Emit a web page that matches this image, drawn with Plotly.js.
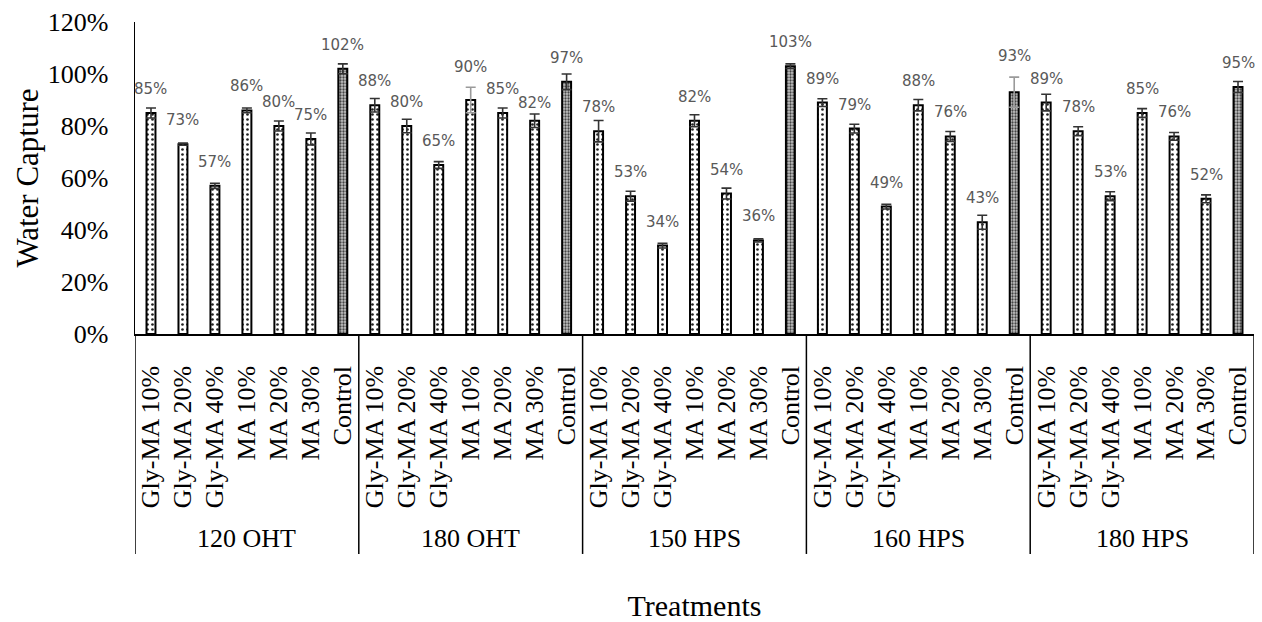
<!DOCTYPE html>
<html>
<head>
<meta charset="utf-8">
<script src="https://cdn.plot.ly/plotly-3.0.1.min.js"></script>
<style>html,body{margin:0;padding:0;background:#fff;}#chart{width:1262px;height:622px;}</style>
</head>
<body>
<div id="chart"></div>
<script>
// ---- data ----
const groups = ['120 OHT', '180 OHT', '150 HPS', '160 HPS', '180 HPS'];
const treatments = ['Gly-MA 10%', 'Gly-MA 20%', 'Gly-MA 40%', 'MA 10%', 'MA 20%', 'MA 30%', 'Control'];
const capture120OHT = [85, 73, 57, 86, 80, 75, 102];
const capture180OHT = [88, 80, 65, 90, 85, 82, 97];
const capture150HPS = [78, 53, 34, 82, 54, 36, 103];
const capture160HPS = [89, 79, 49, 88, 76, 43, 93];
const capture180HPS = [89, 78, 53, 85, 76, 52, 95];
const err120OHT = [1.9, 0.4, 1.0, 0.9, 1.9, 2.3, 1.9];
const err180OHT = [2.6, 2.6, 1.3, 4.9, 1.9, 2.6, 3.0];
const err150HPS = [4.1, 1.9, 0.9, 2.3, 2.1, 0.6, 0.9];
const err160HPS = [1.5, 1.7, 0.9, 2.2, 1.9, 2.7, 5.8];
const err180HPS = [3.2, 1.7, 1.7, 1.7, 1.5, 1.5, 2.1];

// ---- style config ----
const greyErrIdx = [10, 27];          // error bars drawn in light grey
const labelShift = {10: 33, 27: 36, 12: 18}; // px above bar top (default 24)

const values = [].concat(capture120OHT, capture180OHT, capture150HPS, capture160HPS, capture180HPS);
const errors = [].concat(err120OHT, err180OHT, err150HPS, err160HPS, err180HPS);
const nT = treatments.length;
const xs = values.map((v, i) => i);
const tickText = [];
groups.forEach(() => treatments.forEach(t => tickText.push(t)));

const isControl = i => treatments[i % nT] === 'Control';
const dotIdx = xs.filter(i => !isControl(i));
const ctlIdx = xs.filter(i => isControl(i));

const pick = (arr, idx) => idx.map(i => arr[i]);

const traces = [
  {
    type: 'bar', x: pick(xs, dotIdx), y: pick(values, dotIdx), width: 0.28,
    marker: {color: '#ffffff', line: {color: '#000', width: 2},
             pattern: {shape: '.', fgcolor: '#222', bgcolor: '#ffffff', size: 5, solidity: 0.22}},
    hoverinfo: 'skip', showlegend: false
  },
  {
    type: 'bar', x: pick(xs, ctlIdx), y: pick(values, ctlIdx), width: 0.28,
    marker: {color: '#999', line: {color: '#000', width: 2},
             pattern: {shape: '.', fgcolor: '#444', bgcolor: '#c4c4c4', size: 3, solidity: 0.45}},
    hoverinfo: 'skip', showlegend: false
  }
];

const darkIdx = xs.filter(i => greyErrIdx.indexOf(i) < 0);
[[darkIdx, '#333333'], [greyErrIdx, '#9a9a9a']].forEach(([idx, col]) => {
  traces.push({
    type: 'scatter', mode: 'markers', x: pick(xs, idx), y: pick(values, idx),
    marker: {size: 1, opacity: 0},
    error_y: {type: 'data', array: pick(errors, idx), visible: true, color: col, thickness: 1.6, width: 5},
    hoverinfo: 'skip', showlegend: false
  });
});

const annotations = values.map((v, i) => ({
  x: i, y: v, xref: 'x', yref: 'y', text: v + '%', showarrow: false,
  yanchor: 'middle', yshift: (labelShift[i] !== undefined ? labelShift[i] : 24),
  font: {family: 'DejaVu Sans', size: 15, color: '#595959'}
}));
groups.forEach((g, gi) => {
  annotations.push({
    x: gi * nT + (nT - 1) / 2, y: -0.654, xref: 'x', yref: 'paper', text: g, showarrow: false,
    yanchor: 'middle', font: {family: 'Liberation Serif', size: 26, color: '#000'}
  });
});

const shapes = [];
for (let g = 0; g <= groups.length; g++) {
  shapes.push({type: 'line', xref: 'x', yref: 'paper', x0: g * nT - 0.5, x1: g * nT - 0.5,
               y0: 0, y1: -0.705, line: {color: '#000', width: 1.5}});
}

const layout = {
  width: 1262, height: 622,
  margin: {l: 135, r: 8, t: 22, b: 288},
  paper_bgcolor: '#fff', plot_bgcolor: '#fff',
  barmode: 'overlay',
  showlegend: false,
  xaxis: {
    range: [-0.5, xs.length - 0.5], tickmode: 'array', tickvals: xs, ticktext: tickText,
    tickangle: -90, ticks: '', showline: true, linecolor: '#000', linewidth: 1.5,
    showgrid: false, zeroline: false, ticklabelstandoff: 20,
    tickfont: {family: 'Liberation Serif', size: 26, color: '#000'},
    title: {text: 'Treatments', standoff: 88, font: {family: 'Liberation Serif', size: 30, color: '#000'}}
  },
  yaxis: {
    range: [0, 120], dtick: 20, ticksuffix: '%', ticks: '', showline: true, linecolor: '#000', linewidth: 1.5,
    showgrid: false, zeroline: false, ticklabelstandoff: 20,
    tickfont: {family: 'Liberation Serif', size: 26, color: '#000'},
    title: {text: 'Water Capture', standoff: 0, font: {family: 'Liberation Serif', size: 31, color: '#000'}}
  },
  annotations: annotations,
  shapes: shapes
};

Plotly.newPlot('chart', traces, layout, {staticPlot: true, displayModeBar: false});
</script>
</body>
</html>
